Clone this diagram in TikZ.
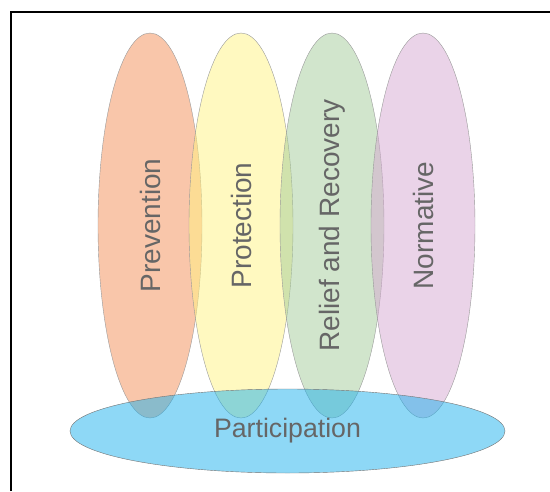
\documentclass[tikz,border=0pt]{standalone}
\usepackage{fontspec}
\setmainfont{Liberation Sans}
\usetikzlibrary{shapes.geometric}
\definecolor{preventioncol}{RGB}{243,141,85}
\definecolor{protectioncol}{RGB}{255,243,129}
\definecolor{reliefcol}{RGB}{163,203,153}
\definecolor{normativecol}{RGB}{213,167,209}
\definecolor{participationcol}{RGB}{29,177,237}
\newcommand{\pillarwidth}{104pt}
\newcommand{\pillarheight}{385pt}
\tikzstyle{area}=[ellipse, draw=black!40, line width=0.4pt, fill opacity=0.5, text opacity=1,
                  text=black!60, inner sep=0, outer sep=0]
\tikzstyle{pillar}=[area, rotate=90, minimum width=\pillarheight, minimum height=\pillarwidth,
                    font=\fontsize{28}{30}\selectfont]
\tikzstyle{base}=[area, draw=black!55, minimum width=435pt, minimum height=84pt,
                  font=\fontsize{26.7}{30}\selectfont]

\begin{document}
\begin{tikzpicture}[x=1pt, y=-1pt]
    \useasboundingbox (0, 0) rectangle (550, 491);
    % frame, cut off on the right and at the bottom
    \draw[line width=2pt] (11, 491) -- (11, 12) -- (550, 12);
    % the four pillars
    \node[pillar, fill=preventioncol] (prevention) at (150, 225.5) {Prevention};
    \node[pillar, fill=protectioncol] (protection) at (241, 225.5) {Protection};
    \node[pillar, fill=reliefcol] (relief) at (332, 225.5) {Relief and Recovery};
    \node[pillar, fill=normativecol] (normative) at (423, 225.5) {Normative};
    % lying across their feet
    \node[base, fill=participationcol] (participation) at (287.5, 431) {Participation};
\end{tikzpicture}
\end{document}
